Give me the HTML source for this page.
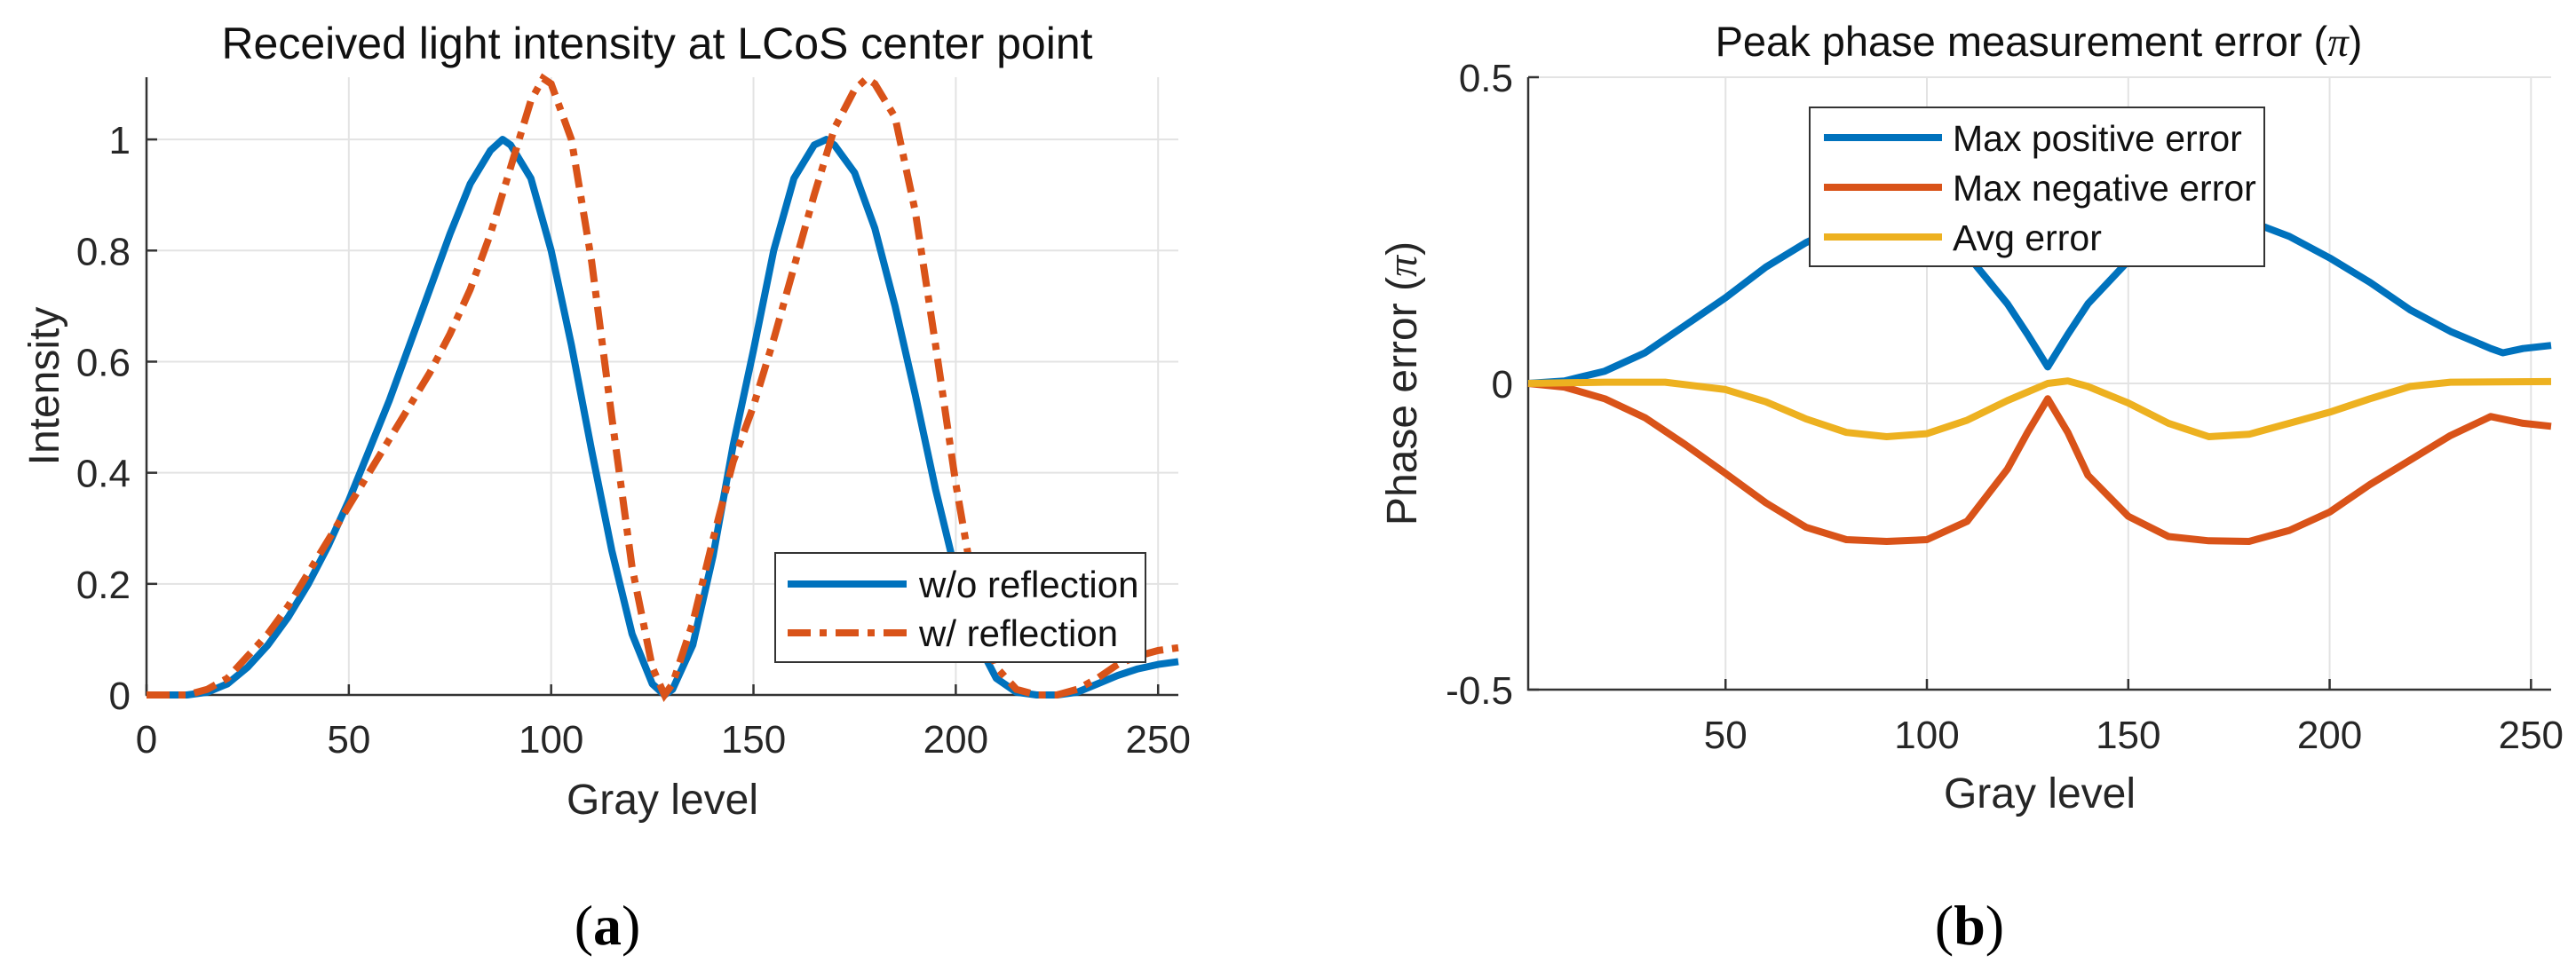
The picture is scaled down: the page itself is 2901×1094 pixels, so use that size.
<!DOCTYPE html>
<html><head><meta charset="utf-8"><style>
html,body{margin:0;padding:0;background:#fff;}
svg{display:block;font-family:"Liberation Sans",Arial,sans-serif;}
</style></head><body>
<svg id="fig" width="2901" height="1094" viewBox="0 0 2901 1094">
  <g id="chartA"></g>
  <g id="chartB"></g>
  <text x="684" y="1064" font-family="Liberation Serif,serif" font-size="64" text-anchor="middle">(<tspan font-weight="bold">a</tspan>)</text>
  <text x="2218" y="1064" font-family="Liberation Serif,serif" font-size="64" text-anchor="middle">(<tspan font-weight="bold">b</tspan>)</text>
</svg>
<script>
// ---- Chart A data ----
const aX = [0,5,10,15,20,25,30,35,40,45,50,55,60,65,70,75,80,85,88,90,95,100,105,110,115,120,125,128,130,135,140,145,150,155,160,165,168,170,175,180,185,190,195,200,205,210,215,220,225,230,235,240,245,250,255];
const aNoRefl = [0,0,0,0.005,0.02,0.05,0.09,0.14,0.2,0.27,0.35,0.44,0.53,0.63,0.73,0.83,0.92,0.98,1.0,0.99,0.93,0.8,0.63,0.44,0.26,0.11,0.02,0,0.01,0.09,0.25,0.45,0.62,0.8,0.93,0.99,1.0,0.99,0.94,0.84,0.7,0.54,0.37,0.22,0.1,0.03,0.005,0,0,0.005,0.02,0.035,0.047,0.055,0.06];
const aXR = [0,5,10,15,20,25,30,35,40,45,50,55,60,65,70,75,80,85,90,95,98,100,105,110,115,120,125,128,130,135,140,145,150,155,160,165,170,175,178,180,185,190,195,200,205,210,215,220,225,230,235,240,245,250,255];
const aRefl = [0,0,0,0.01,0.03,0.07,0.11,0.16,0.22,0.28,0.34,0.40,0.46,0.52,0.58,0.65,0.73,0.83,0.95,1.07,1.11,1.10,1.0,0.78,0.5,0.23,0.05,0,0.02,0.13,0.28,0.42,0.52,0.64,0.77,0.9,1.02,1.09,1.11,1.10,1.04,0.87,0.63,0.38,0.17,0.05,0.01,0,0,0.01,0.03,0.055,0.07,0.08,0.085];
const aXTicks = [0,50,100,150,200,250];
const aYTicks = [0,0.2,0.4,0.6,0.8,1];
const aYTickLabels = ["0","0.2","0.4","0.6","0.8","1"];
// ---- Chart B data ----
const bPosX = [1,10,20,30,40,50,60,70,80,90,100,110,120,125,130,135,140,150,160,170,180,190,200,210,220,230,240,243,248,255];
const bPos = [0,0.004,0.02,0.05,0.095,0.14,0.19,0.23,0.26,0.275,0.26,0.21,0.13,0.08,0.027,0.08,0.13,0.2,0.245,0.27,0.265,0.24,0.205,0.165,0.12,0.085,0.057,0.05,0.057,0.062];
const bNegX = [1,10,20,30,40,50,60,70,80,90,100,110,120,125,130,135,140,150,160,170,180,190,200,210,220,230,240,248,255];
const bNeg = [0,-0.006,-0.025,-0.056,-0.1,-0.147,-0.195,-0.235,-0.255,-0.258,-0.255,-0.225,-0.14,-0.08,-0.025,-0.08,-0.15,-0.217,-0.25,-0.257,-0.258,-0.24,-0.21,-0.165,-0.125,-0.085,-0.054,-0.065,-0.07];
const bAvgX = [1,20,35,50,60,70,80,90,100,110,120,130,135,140,150,160,170,180,190,200,210,220,230,255];
const bAvg = [0,0.002,0.002,-0.01,-0.03,-0.058,-0.08,-0.087,-0.082,-0.06,-0.028,0,0.004,-0.005,-0.032,-0.065,-0.087,-0.083,-0.065,-0.047,-0.025,-0.005,0.002,0.003];
const bXTicks = [50,100,150,200,250];
const bYTicks = [-0.5,0,0.5];
const bYTickLabels = ["-0.5","0","0.5"];

const NS = "http://www.w3.org/2000/svg";
function mk(parent, tag, attrs){ const e=document.createElementNS(NS,tag); for(const k in attrs) e.setAttribute(k,attrs[k]); parent.appendChild(e); return e; }
function pathD(xs, ys, sx, sy){ return xs.map((x,i)=>(i?'L':'M')+sx(x).toFixed(1)+','+sy(ys[i]).toFixed(1)).join(''); }

// ---------- Chart A ----------
(function(){
  const g=document.getElementById('chartA');
  const L=165,R=1327,T=87,B=783, x0=0,x1=255,y0=0,y1=1.112;
  const sx=v=>L+(v-x0)/(x1-x0)*(R-L), sy=v=>B-(v-y0)/(y1-y0)*(B-T);
  aXTicks.forEach(t=>{ const l=mk(g,'line',{x1:sx(t),x2:sx(t),y1:T,y2:B,stroke:'#e3e3e3','stroke-width':2});
      });
  aYTicks.forEach(t=>{ const l=mk(g,'line',{x1:L,x2:R,y1:sy(t),y2:sy(t),stroke:'#e3e3e3','stroke-width':2});
      });
  const ax=mk(g,'path',{d:`M${L},${T}V${B}H${R}`,fill:'none',stroke:'#333','stroke-width':2.5});
   
  aXTicks.forEach(t=>{ mk(g,'line',{x1:sx(t),x2:sx(t),y1:B,y2:B-12,stroke:'#333','stroke-width':2.5});
    const tx=mk(g,'text',{x:sx(t),y:848,'font-size':44,'text-anchor':'middle',fill:'#262626'}); tx.textContent=t;
      });
  aYTicks.forEach((t,i)=>{ mk(g,'line',{x1:L,x2:L+12,y1:sy(t),y2:sy(t),stroke:'#333','stroke-width':2.5});
    const tx=mk(g,'text',{x:147,y:sy(t)+16,'font-size':44,'text-anchor':'end',fill:'#262626'}); tx.textContent=aYTickLabels[i];
      });
  const p1=mk(g,'path',{d:pathD(aX,aNoRefl,sx,sy),fill:'none',stroke:'#0072BD','stroke-width':8,'stroke-linejoin':'round'});
   
  const p2=mk(g,'path',{d:pathD(aXR,aRefl,sx,sy),fill:'none',stroke:'#D95319','stroke-width':8,'stroke-dasharray':'26 10 8 10'});
   
  const t=mk(g,'text',{x:740,y:66,'font-size':50,'text-anchor':'middle',fill:'#111'}); t.textContent='Received light intensity at LCoS center point';
   
  const xl=mk(g,'text',{x:746,y:917,'font-size':48,'text-anchor':'middle',fill:'#262626'}); xl.textContent='Gray level';
   
  const yl=mk(g,'text',{x:0,y:0,'font-size':48,'text-anchor':'middle',fill:'#262626',transform:'translate(66,435) rotate(-90)'}); yl.textContent='Intensity';
   
  const lg=mk(g,'g',{});  
  mk(lg,'rect',{x:873,y:623,width:417,height:123,fill:'#fff',stroke:'#333','stroke-width':2});
  mk(lg,'line',{x1:887,x2:1021,y1:658,y2:658,stroke:'#0072BD','stroke-width':8});
  mk(lg,'line',{x1:887,x2:1021,y1:713,y2:713,stroke:'#D95319','stroke-width':8,'stroke-dasharray':'26 10 8 10'});
  const e1=mk(lg,'text',{x:1035,y:673,'font-size':42,fill:'#111'}); e1.textContent='w/o reflection';
   
  const e2=mk(lg,'text',{x:1035,y:728,'font-size':42,fill:'#111'}); e2.textContent='w/ reflection';
   
})();

// ---------- Chart B ----------
(function(){
  const g=document.getElementById('chartB');
  const L=1721,R=2873,T=87,B=777, x0=1,x1=255,y0=-0.5,y1=0.5;
  const sx=v=>L+(v-x0)/(x1-x0)*(R-L), sy=v=>B-(v-y0)/(y1-y0)*(B-T);
  bXTicks.forEach(t=>{ const l=mk(g,'line',{x1:sx(t),x2:sx(t),y1:T,y2:B,stroke:'#e3e3e3','stroke-width':2});
      });
  bYTicks.forEach(t=>{ const l=mk(g,'line',{x1:L,x2:R,y1:sy(t),y2:sy(t),stroke:'#e3e3e3','stroke-width':2});
      });
  const ax=mk(g,'path',{d:`M${L},${T}V${B}H${R}`,fill:'none',stroke:'#333','stroke-width':2.5});
   
  bXTicks.forEach(t=>{ mk(g,'line',{x1:sx(t),x2:sx(t),y1:B,y2:B-12,stroke:'#333','stroke-width':2.5});
    const tx=mk(g,'text',{x:sx(t),y:843,'font-size':44,'text-anchor':'middle',fill:'#262626'}); tx.textContent=t;
      });
  bYTicks.forEach((t,i)=>{ mk(g,'line',{x1:L,x2:L+12,y1:sy(t),y2:sy(t),stroke:'#333','stroke-width':2.5});
    const tx=mk(g,'text',{x:1704,y:sy(t)+16,'font-size':44,'text-anchor':'end',fill:'#262626'}); tx.textContent=bYTickLabels[i];
      });
  const p1=mk(g,'path',{d:pathD(bPosX,bPos,sx,sy),fill:'none',stroke:'#0072BD','stroke-width':8,'stroke-linejoin':'round'});
   
  const p2=mk(g,'path',{d:pathD(bNegX,bNeg,sx,sy),fill:'none',stroke:'#D95319','stroke-width':8,'stroke-linejoin':'round'});
   
  const p3=mk(g,'path',{d:pathD(bAvgX,bAvg,sx,sy),fill:'none',stroke:'#EDB120','stroke-width':8,'stroke-linejoin':'round'});
   
  const t=mk(g,'text',{x:2296,y:63,'font-size':47,'text-anchor':'middle',fill:'#111'}); t.innerHTML='Peak phase measurement error (<tspan font-family="Liberation Serif,serif" font-style="italic">π</tspan>)';
   
  const xl=mk(g,'text',{x:2297,y:910,'font-size':48,'text-anchor':'middle',fill:'#262626'}); xl.textContent='Gray level';
   
  const yl=mk(g,'text',{x:0,y:0,'font-size':48,'text-anchor':'middle',fill:'#262626',transform:'translate(1595,432) rotate(-90)'}); yl.innerHTML='Phase error (<tspan font-family="Liberation Serif,serif" font-style="italic">π</tspan>)';
   
  const lg=mk(g,'g',{});  
  mk(lg,'rect',{x:2038,y:121,width:512,height:179,fill:'#fff',stroke:'#333','stroke-width':2});
  const cols=['#0072BD','#D95319','#EDB120'], names=['Max positive error','Max negative error','Avg error'], ys=[155,211,267];
  for(let i=0;i<3;i++){
    mk(lg,'line',{x1:2054,x2:2187,y1:ys[i],y2:ys[i],stroke:cols[i],'stroke-width':8});
    const e=mk(lg,'text',{x:2199,y:ys[i]+15,'font-size':41,fill:'#111'}); e.textContent=names[i];
     
  }
})();
</script>
</body></html>
